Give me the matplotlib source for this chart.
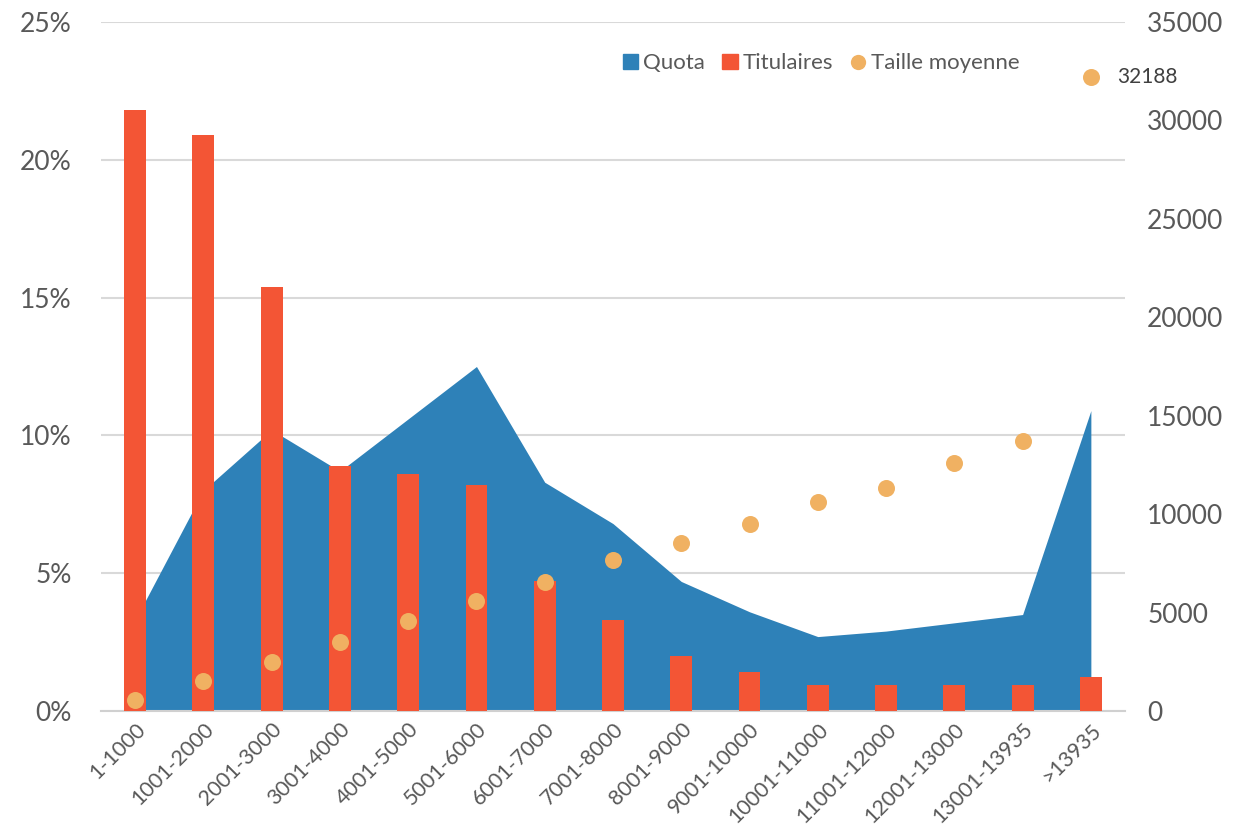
import matplotlib
matplotlib.use('Agg')
from matplotlib import pyplot as plt
from matplotlib.patches import Patch
from matplotlib.lines import Line2D
from matplotlib.ticker import FuncFormatter
import numpy as np

plt.rcParams['font.family'] = ['Lato', 'DejaVu Sans']

BLUE = '#2E81B8'
RED = '#F35535'
ORANGE = '#F0B162'
GREY = '#595959'

categories = ['1-1000', '1001-2000', '2001-3000', '3001-4000', '4001-5000',
              '5001-6000', '6001-7000', '7001-8000', '8001-9000', '9001-10000',
              '10001-11000', '11001-12000', '12001-13000', '13001-13935', '>13935']

# % of total quota per class
quota = [3.3, 8.0, 10.2, 8.7, 10.6, 12.5, 8.3, 6.8, 4.7, 3.6, 2.7, 2.9, 3.2, 3.5, 10.9]
# % of holders per class
titulaires = [21.8, 20.9, 15.4, 8.9, 8.6, 8.2, 4.7, 3.3, 2.0, 1.4, 0.95, 0.95, 0.95, 0.95, 1.25]
# average size (right axis)
taille = [560, 1520, 2490, 3510, 4570, 5590, 6550, 7670, 8540, 9500,
          10620, 11330, 12600, 13720, 32188]

x = np.arange(len(categories))

fig, ax = plt.subplots(figsize=(12.44, 8.27), dpi=100)
fig.subplots_adjust(left=101/1244, right=1125/1244, bottom=1-711/827, top=1-22/827)

ax.fill_between(x, 0, quota, color=BLUE, linewidth=0, zorder=2)
ax.bar(x, titulaires, width=0.32, color=RED, zorder=3)

ax.set_xlim(-0.5, len(categories) - 0.5)
ax.set_ylim(0, 25)
ax.set_yticks(np.arange(0, 26, 5))
ax.yaxis.set_major_formatter(FuncFormatter(lambda v, p: f'{v:.0f}%'))
ax.grid(axis='y', color='#d9d9d9', linewidth=1.5, zorder=0)
ax.set_axisbelow(True)
for s in ['top', 'right', 'left']:
    ax.spines[s].set_visible(False)
ax.spines['bottom'].set_color('#d0d0d0')
ax.spines['bottom'].set_linewidth(1.5)
ax.tick_params(axis='y', length=0, labelsize=19, labelcolor=GREY, pad=21)
ax.tick_params(axis='x', length=0, labelsize=15.5, labelcolor=GREY, pad=6)
ax.set_xticks(x)
ax.set_xticklabels(categories, rotation=45, ha='right', rotation_mode='anchor')

ax2 = ax.twinx()
ax2.scatter(x, taille, s=150, color=ORANGE, zorder=4, linewidths=0)
ax2.set_ylim(0, 35000)
ax2.set_yticks(np.arange(0, 35001, 5000))
for s in ax2.spines.values():
    s.set_visible(False)
ax2.tick_params(axis='y', length=0, labelsize=19, labelcolor=GREY, pad=16)
ax2.annotate(f'{taille[-1]}', (x[-1], taille[-1]), xytext=(19, 0),
             textcoords='offset points', va='center', ha='left',
             fontsize=15, color='#404040')

handles = [Patch(color=BLUE, label='Quota'),
           Patch(color=RED, label='Titulaires'),
           Line2D([], [], marker='o', linestyle='none', markersize=11,
                  markerfacecolor=ORANGE, markeredgewidth=0, label='Taille moyenne')]
leg = ax.legend(handles=handles, loc='center', bbox_to_anchor=(0.703, 0.940),
                ncol=3, frameon=False, fontsize=16, handlelength=0.7,
                handletextpad=0.2, columnspacing=0.8)
for t in leg.get_texts():
    t.set_color(GREY)

fig.savefig('out.png', dpi=100)
